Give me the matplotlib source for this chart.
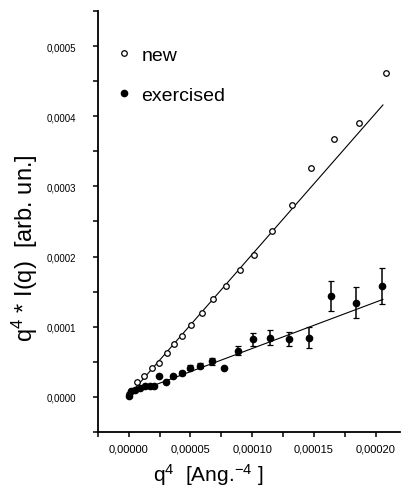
import numpy as np
import matplotlib.pyplot as plt
from matplotlib.ticker import FixedLocator, FixedFormatter, MultipleLocator

plt.rcParams['font.family'] = ['Liberation Sans', 'DejaVu Sans']
plt.rcParams['mathtext.default'] = 'regular'

# data (x in 1e-5 Ang^-4, y in 1e-5 arb. un.)
new_x = [0.02, 0.71, 1.25, 1.86, 2.48, 3.11, 3.71, 4.34, 5.08, 5.90, 6.86,
         7.87, 8.99, 10.19, 11.58, 13.22, 14.78, 16.61, 18.66, 20.88]
new_y = [0.43, 2.09, 3.03, 4.08, 4.84, 6.27, 7.55, 8.73, 10.26, 11.92, 13.92,
         15.77, 18.13, 20.23, 23.60, 27.35, 32.58, 36.75, 39.03, 46.15]

exe_x = [0.0, 0.22, 0.49, 0.89, 1.30, 1.71, 2.03, 2.46, 3.01, 3.55, 4.28,
         4.96, 5.77, 6.72, 7.75, 8.84, 10.06, 11.46, 13.01, 14.58, 16.42,
         18.43, 20.54]
exe_y = [0.09, 0.80, 1.04, 1.29, 1.51, 1.61, 1.51, 2.94, 2.09, 2.94, 3.43,
         4.19, 4.47, 5.09, 4.14, 6.61, 8.19, 8.43, 8.29, 8.43, 14.37,
         13.43, 15.80]
exe_err = [0, 0, 0, 0, 0, 0, 0, 0, 0, 0, 0.3,
           0.3, 0.4, 0.5, 0, 0.6, 0.9, 1.1, 1.0, 1.5, 2.1,
           2.2, 2.6]

# linear fits as drawn (intercept, slope) and fit range
new_fit = (0.2, 2.01)
exe_fit = (0.3, 0.66)
fit_range = (0.0, 20.6)

x_ticks = [0, 5, 10, 15, 20]
x_tick_labels = ['0,00000', '0,00005', '0,00010', '0,00015', '0,00020']
y_ticks = [0, 10, 20, 30, 40, 50]
y_tick_labels = ['0,0000', '0,0001', '0,0002', '0,0003', '0,0004', '0,0005']

fig = plt.figure(figsize=(4.01, 4.89), dpi=100)
ax = fig.add_axes([0.244, 0.1145, 0.754, 0.861])

fx = np.array(fit_range)
ax.plot(fx, new_fit[0] + new_fit[1] * fx, color='black', lw=0.8)
ax.plot(fx, exe_fit[0] + exe_fit[1] * fx, color='black', lw=0.8)

h_new, = ax.plot(new_x, new_y, 'o', mfc='white', mec='black', ms=4, mew=0.9)
h_exe = ax.errorbar(exe_x, exe_y, yerr=exe_err, fmt='o', color='black', ms=4.5,
                    elinewidth=1.1, capsize=2, capthick=0.9)

ax.set_xlim(-2.5, 22.0)
ax.set_ylim(-5, 55)

ax.spines['top'].set_visible(False)
ax.spines['right'].set_visible(False)
ax.spines['left'].set_linewidth(1.3)
ax.spines['bottom'].set_linewidth(1.3)

ax.xaxis.set_major_locator(FixedLocator(x_ticks))
ax.xaxis.set_major_formatter(FixedFormatter(x_tick_labels))
ax.yaxis.set_major_locator(FixedLocator(y_ticks))
ax.yaxis.set_major_formatter(FixedFormatter(y_tick_labels))
ax.xaxis.set_minor_locator(MultipleLocator(2.5))
ax.yaxis.set_minor_locator(MultipleLocator(5))
ax.tick_params(which='both', direction='out', width=1.1, length=3.5)
ax.tick_params(axis='x', labelsize=8, pad=4.5)
ax.tick_params(axis='y', labelsize=7, pad=12)

fig.text(0.063, 0.493, 'q$^4$ * I(q)  [arb. un.]', rotation=90, fontsize=17,
         ha='center', va='center')
fig.text(0.52, 0.028, 'q$^4$  [Ang.$^{-4}$ ]', fontsize=15, ha='center',
         va='center')

ax.legend([h_new, h_exe[0]], ['new', 'exercised'], loc='upper left',
          bbox_to_anchor=(0.003, 0.957), frameon=False, fontsize=14,
          handlelength=0.8, handletextpad=0.5, labelspacing=1.15)

fig.savefig('out.png', dpi=100)
